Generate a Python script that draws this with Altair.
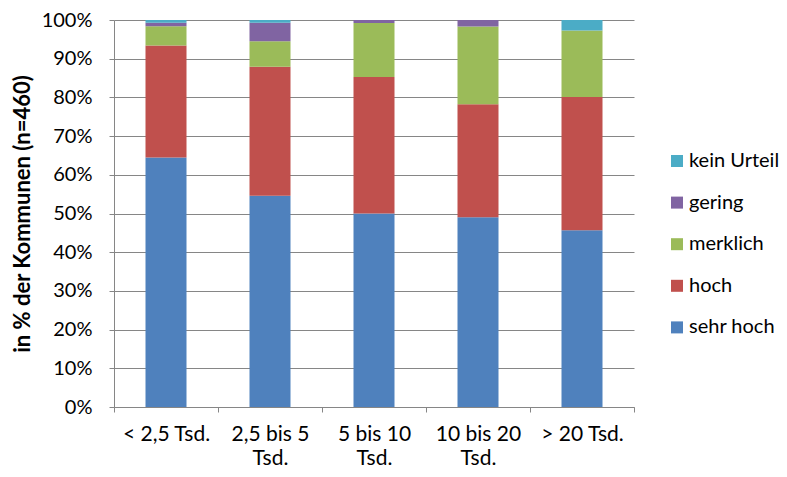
import altair as alt
import pandas as pd

categories = ["< 2,5 Tsd.", "2,5 bis 5|Tsd.", "5 bis 10|Tsd.", "10 bis 20|Tsd.", "> 20 Tsd."]
series = ["sehr hoch", "hoch", "merklich", "gering", "kein Urteil"]
sehr_hoch = [64.5, 54.6, 50.0, 49.0, 45.7]
hoch = [28.9, 33.3, 35.3, 29.2, 34.4]
merklich = [5.0, 6.6, 13.9, 20.1, 17.2]
gering = [0.9, 4.8, 0.8, 1.7, 0.0]
kein_urteil = [0.7, 0.7, 0.0, 0.0, 2.7]
colors = ["#4F81BD", "#C0504D", "#9BBB59", "#8064A2", "#4BACC6"]
y_ticks = [0, 10, 20, 30, 40, 50, 60, 70, 80, 90, 100]

values = [sehr_hoch, hoch, merklich, gering, kein_urteil]
rows = []
for si, (s, vals) in enumerate(zip(series, values)):
    for c, v in zip(categories, vals):
        rows.append({"cat": c, "series": s, "value": v, "rank": si})
df = pd.DataFrame(rows)

FONT = "Lato"

chart = alt.Chart(df).mark_bar(size=41).encode(
    x=alt.X(
        "cat:N",
        sort=categories,
        scale=alt.Scale(paddingInner=0, paddingOuter=0),
        axis=alt.Axis(
            title=None,
            labelExpr="split(datum.label, '|')",
            tickBand="extent",
            labelAngle=0,
            labelFont=FONT,
            labelFontSize=21,
            labelColor="#000000",
            labelPadding=11,
            labelLineHeight=24,
            labelBaseline="top",
            tickSize=5,
            tickColor="#868686",
            domainColor="#868686",
        ),
    ),
    y=alt.Y(
        "value:Q",
        stack="zero",
        scale=alt.Scale(domain=[0, 100]),
        axis=alt.Axis(
            values=y_ticks,
            labelExpr="datum.value + '%'",
            title="in % der Kommunen (n=460)",
            titleFont=FONT,
            titleFontSize=22,
            titleFontWeight="bold",
            titleColor="#000000",
            titlePadding=7,
            labelFont=FONT,
            labelFontSize=20,
            labelColor="#000000",
            labelPadding=17,
            tickSize=5,
            tickColor="#868686",
            domainColor="#868686",
            grid=True,
            gridColor="#868686",
            gridWidth=1,
        ),
    ),
    color=alt.Color(
        "series:N",
        scale=alt.Scale(domain=series[::-1], range=colors[::-1]),
        legend=alt.Legend(
            title=None,
            orient="none",
            legendX=553,
            legendY=131,
            symbolType="square",
            symbolSize=144,
            symbolStrokeWidth=0,
            labelFont=FONT,
            labelFontSize=20,
            labelColor="#000000",
            labelLimit=300,
            rowPadding=21.6,
            padding=0,
            labelOffset=2,
        ),
    ),
    order=alt.Order("rank:Q", sort="ascending"),
).properties(
    width=520,
    height=387,
    autosize=alt.AutoSizeParams(type="none"),
    padding={"left": 106, "top": 12, "right": 145, "bottom": 62},
).configure_view(stroke=None)

chart.save("out.html", embed_options={"renderer": "svg", "actions": False})
